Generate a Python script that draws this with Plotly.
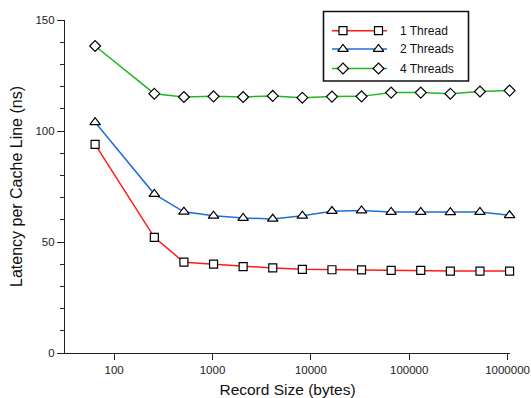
import plotly.graph_objects as go

# Record sizes in bytes (powers of two from 64 B to 1 MiB)
record_sizes = [64, 256, 512, 1024, 2048, 4096, 8192, 16384, 32768,
                65536, 131072, 262144, 524288, 1048576]

# Latency per cache line (ns)
one_thread = [94.0, 52.1, 40.9, 40.0, 38.9, 38.3, 37.7, 37.5, 37.4,
              37.2, 37.2, 36.9, 36.9, 36.9]
two_threads = [103.9, 71.6, 63.6, 61.8, 60.8, 60.4, 61.8, 63.9, 64.2,
               63.5, 63.5, 63.4, 63.5, 62.0]
four_threads = [138.3, 116.8, 115.3, 115.6, 115.3, 115.8, 115.0, 115.5, 115.6,
                117.3, 117.3, 116.8, 117.8, 118.2]

series_names = ["1 Thread", "2 Threads", "4 Threads"]
series_values = [one_thread, two_threads, four_threads]
series_colors = ["#ff1a1a", "#1c6fd8", "#1fb81f"]
series_symbols = ["square", "triangle-up", "diamond"]
series_sizes = [8, 9.2, 8.4]

x_tickvals = [100, 1000, 10000, 100000, 1000000]
x_ticktext = ["100", "1000", "10000", "100000", "1000000"]
y_tickvals = [0, 50, 100, 150]

W, H = 531, 398
L, R, T, B = 65, 21, 20, 45
FONT = "Liberation Sans, Arial, sans-serif"
AXIS = "#222222"


def paper_x(px):
    return (px - L) / (W - L - R)


def paper_y(py):
    return (H - B - py) / (H - T - B)


fig = go.Figure()

for name, vals, col, sym, sz in zip(series_names, series_values,
                                    series_colors, series_symbols, series_sizes):
    fig.add_trace(go.Scatter(
        x=record_sizes, y=vals, name=name, mode="lines+markers",
        line=dict(color=col, width=1.5),
        marker=dict(symbol=sym, size=sz, color="white",
                    line=dict(color="black", width=1.2)),
        showlegend=False, cliponaxis=False,
    ))

# Hand-built legend drawn on a pixel-scaled overlay axis
row_y = [30.7, 49.0, 68.5]
for name, col, sym, sz, yy in zip(series_names, series_colors,
                                  series_symbols, series_sizes, row_y):
    fig.add_trace(go.Scatter(
        x=[332, 387], y=[yy, yy], mode="lines", xaxis="x2", yaxis="y2",
        line=dict(color=col, width=1.5), showlegend=False, hoverinfo="skip"))
    fig.add_trace(go.Scatter(
        x=[343, 378.5], y=[yy, yy], mode="markers", xaxis="x2", yaxis="y2",
        marker=dict(symbol=sym, size=sz, color="white",
                    line=dict(color="black", width=1.2)),
        showlegend=False, hoverinfo="skip"))
    fig.add_annotation(x=398, y=yy, xref="x2", yref="y2", text=name,
                       showarrow=False, xanchor="left", yanchor="middle",
                       font=dict(family=FONT, size=12, color="#111111"))

fig.add_shape(type="rect", xref="paper", yref="paper",
              x0=paper_x(323.5), x1=paper_x(468.5),
              y0=paper_y(11.5), y1=paper_y(81),
              line=dict(color="#111111", width=1.6),
              fillcolor="rgba(0,0,0,0)")

fig.update_layout(
    width=W, height=H,
    margin=dict(l=L, r=R, t=T, b=B),
    paper_bgcolor="white", plot_bgcolor="white",
    font=dict(family=FONT, size=11.5, color=AXIS),
    xaxis=dict(
        type="log", range=[1.5, 6.025], tickvals=x_tickvals, ticktext=x_ticktext,
        showgrid=False, zeroline=False, showline=True, linecolor=AXIS,
        linewidth=1.2, ticks="outside", ticklen=6, tickcolor=AXIS,
        tickfont=dict(size=11.5, color=AXIS), automargin=False,
        title=dict(text="Record Size (bytes)", font=dict(size=15.5, color="#111111"),
                   standoff=14),
    ),
    yaxis=dict(
        range=[0, 150], tickvals=y_tickvals, showgrid=False, zeroline=False,
        showline=True, linecolor=AXIS, linewidth=1.2, ticks="outside",
        ticklen=7, tickcolor=AXIS, tickfont=dict(size=11.5, color=AXIS),
        automargin=False,
        minor=dict(dtick=10, ticks="outside", ticklen=4, tickcolor=AXIS),
        title=dict(text="Latency per Cache Line (ns)",
                   font=dict(size=16, color="#111111"), standoff=8),
    ),
    xaxis2=dict(overlaying="x", range=[L, W - R], visible=False,
                anchor="y2", fixedrange=True),
    yaxis2=dict(overlaying="y", range=[H - B, T], visible=False,
                anchor="x2", fixedrange=True),
)

fig.write_html("out.html")
